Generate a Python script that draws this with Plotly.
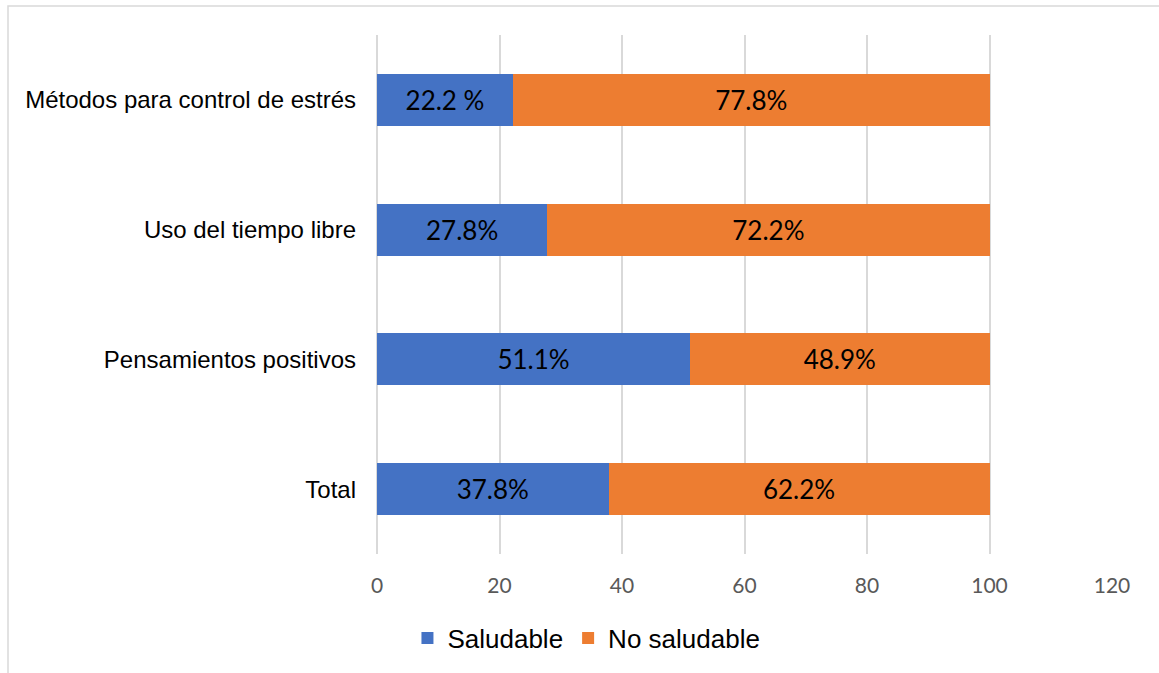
import plotly.graph_objects as go

categories = ["Métodos para control de estrés", "Uso del tiempo libre", "Pensamientos positivos", "Total"]
saludable = [22.2, 27.8, 51.1, 37.8]
no_saludable = [77.8, 72.2, 48.9, 62.2]
saludable_labels = ["22.2 %", "27.8%", "51.1%", "37.8%"]
no_saludable_labels = ["77.8%", "72.2%", "48.9%", "62.2%"]
x_ticks = [0, 20, 40, 60, 80, 100, 120]

fig = go.Figure()
fig.add_trace(go.Bar(
    y=categories, x=saludable, orientation="h", name="Saludable",
    marker=dict(color="#4472C4", line=dict(width=0)),
    text=saludable_labels, textposition="inside", insidetextanchor="middle",
    textfont=dict(family="Lato", size=26, color="black"), textangle=0,
    hoverinfo="skip",
))
fig.add_trace(go.Bar(
    y=categories, x=no_saludable, orientation="h", name="No saludable",
    marker=dict(color="#ED7D31", line=dict(width=0)),
    text=no_saludable_labels, textposition="inside", insidetextanchor="middle",
    textfont=dict(family="Lato", size=26, color="black"), textangle=0,
    hoverinfo="skip",
))

fig.update_layout(
    barmode="stack",
    bargap=0.6,
    width=1159, height=673,
    margin=dict(l=377, r=47, t=35, b=119),
    paper_bgcolor="white", plot_bgcolor="white",
    xaxis=dict(
        range=[0, 120], tickvals=x_ticks, showgrid=True, gridcolor="#d9d9d9", gridwidth=1.5,
        zeroline=True, zerolinecolor="#d9d9d9", zerolinewidth=1.5, showline=False, ticks="",
        tickfont=dict(family="Lato", size=21, color="#595959"),
        ticklabelstandoff=17,
    ),
    yaxis=dict(
        autorange="reversed", showgrid=False, zeroline=False, showline=False, ticks="",
        tickfont=dict(family="Liberation Sans", size=24, color="black"),
        ticklabelstandoff=20,
    ),
    legend=dict(
        orientation="h", xref="container", yref="container", x=0.506, y=0.052,
        xanchor="center", yanchor="middle",
        font=dict(family="Liberation Sans", size=26, color="black"),
        itemwidth=30, traceorder="normal",
    ),
    showlegend=True,
    shapes=[dict(
        type="rect", xref="paper", yref="paper",
        x0=(8 - 377) / 735, x1=(1175 - 377) / 735,
        y0=(554 - 690) / 519, y1=(554 - 6) / 519,
        line=dict(color="#d9d9d9", width=1.5), fillcolor="rgba(0,0,0,0)", layer="below",
    )],
)

fig.write_html("out.html")
